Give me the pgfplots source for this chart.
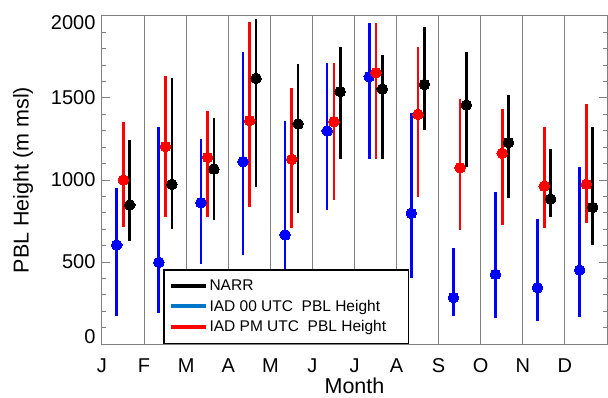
\documentclass[border=0pt]{standalone}
\usepackage{pgfplots}
\usepackage{pgfplotstable}
\pgfplotsset{compat=1.18}
\usepackage{fontspec}
\setmainfont{Liberation Sans}
\definecolor{axgray}{RGB}{128,128,128}
\definecolor{legblue}{RGB}{0,118,200}

\pgfplotstableread{
x y lo hi
0.35 604 171 949
1.35 498 187 1321
2.35 862 488 1252
3.35 1112 543 1782
4.35 665 250 1362
5.35 1299 817 1712
6.35 1630 1126 1960
7.35 797 400 1407
8.35 283 173 583
9.35 425 157 929
10.35 343 142 760
11.35 451 167 1081
}\bluedata

\pgfplotstableread{
x y lo hi
0.51 1000 715 1352
1.51 1203 776 1632
2.51 1138 776 1423
3.51 1362 833 1965
4.51 1126 709 1559
5.51 1356 878 1712
6.51 1654 1126 1960
7.51 1400 898 1813
8.51 1075 695 1494
9.51 1163 726 1433
10.51 963 709 1325
11.51 974 736 1461
}\reddata

\pgfplotstableread{
x y lo hi
0.66 848 628 1244
1.66 974 699 1624
2.66 1067 756 1380
3.66 1620 959 1980
4.66 1342 801 1706
5.66 1539 1128 1809
6.66 1555 1126 1762
7.66 1583 1305 1935
8.66 1457 1081 1782
9.66 1228 888 1518
10.66 884 772 1187
11.66 833 604 1325
}\blackdata

\pgfplotsset{
  bars/.style={forget plot, only marks, mark=none,
    error bars/.cd, y dir=both, y explicit, error mark=none,
    error bar style={#1, line width=2.7pt}},
  dots/.style={forget plot, only marks, mark=*, mark size=5.3pt,
    mark options={fill=#1, draw=#1, line width=0pt}},
}

\begin{document}
\begin{tikzpicture}
\useasboundingbox (-102pt,-53pt) rectangle (506pt,344pt);
\begin{axis}[
  at={(0,0)}, anchor=south west,
  scale only axis, width=505pt, height=328pt,
  xmin=0, xmax=12, ymin=0, ymax=2000,
  xtick={0,1,...,11},
  xticklabels={J,F,M,A,M,J,J,A,S,O,N,D},
  xtick style={draw=none},
  xmajorgrids,
  major grid style={axgray, line width=1pt},
  ytick={0,500,1000,1500,2000},
  yticklabels={\raisebox{7.5pt}[\height][\depth]{0},500,1000,1500,\raisebox{-6.5pt}[\height][\depth]{2000}},
  minor y tick num=4,
  ytick pos=both, yticklabel pos=left,
  tick align=inside,
  major tick length=8pt, minor tick length=4.5pt,
  y tick style={axgray, line width=1pt},
  axis line style={axgray, line width=1pt},
  ticklabel style={font=\fontsize{20}{24}\selectfont},
  xticklabel style={yshift=-11pt},
  yticklabel style={xshift=-3pt},
  xlabel={Month},
  ylabel={PBL Height (m msl)},
  label style={font=\fontsize{21.5}{25}\selectfont},
  xlabel style={at={(axis description cs:0.5,0)}, anchor=north, yshift=-32.5pt, inner sep=1pt},
  ylabel style={at={(axis description cs:-0.1564,0.5)}, anchor=center},
  legend style={at={(axis description cs:0.1214,0)}, anchor=south west,
    draw=black, line width=1.5pt, fill=white,
    font=\fontsize{15.5}{18}\selectfont, cells={anchor=west},
    row sep=3.7pt, inner xsep=4.5pt, inner ysep=8pt},
  legend image code/.code={\draw[#1, line width=4pt] (0pt,0pt) -- (35pt,0pt);},
]
\addlegendimage{black}
\addlegendentry{NARR}
\addlegendimage{legblue}
\addlegendentry{IAD 00 UTC\ \ PBL Height}
\addlegendimage{red}
\addlegendentry{IAD PM UTC\ \ PBL Height\hspace*{16pt}}

\addplot[bars=blue] table[x=x, y=y, y error plus expr=\thisrow{hi}-\thisrow{y}, y error minus expr=\thisrow{y}-\thisrow{lo}] {\bluedata};
\addplot[dots=blue] table[x=x, y=y] {\bluedata};
\addplot[bars=red] table[x=x, y=y, y error plus expr=\thisrow{hi}-\thisrow{y}, y error minus expr=\thisrow{y}-\thisrow{lo}] {\reddata};
\addplot[dots=red] table[x=x, y=y] {\reddata};
\addplot[bars=black] table[x=x, y=y, y error plus expr=\thisrow{hi}-\thisrow{y}, y error minus expr=\thisrow{y}-\thisrow{lo}] {\blackdata};
\addplot[dots=black] table[x=x, y=y] {\blackdata};
\end{axis}
\end{tikzpicture}
\end{document}
